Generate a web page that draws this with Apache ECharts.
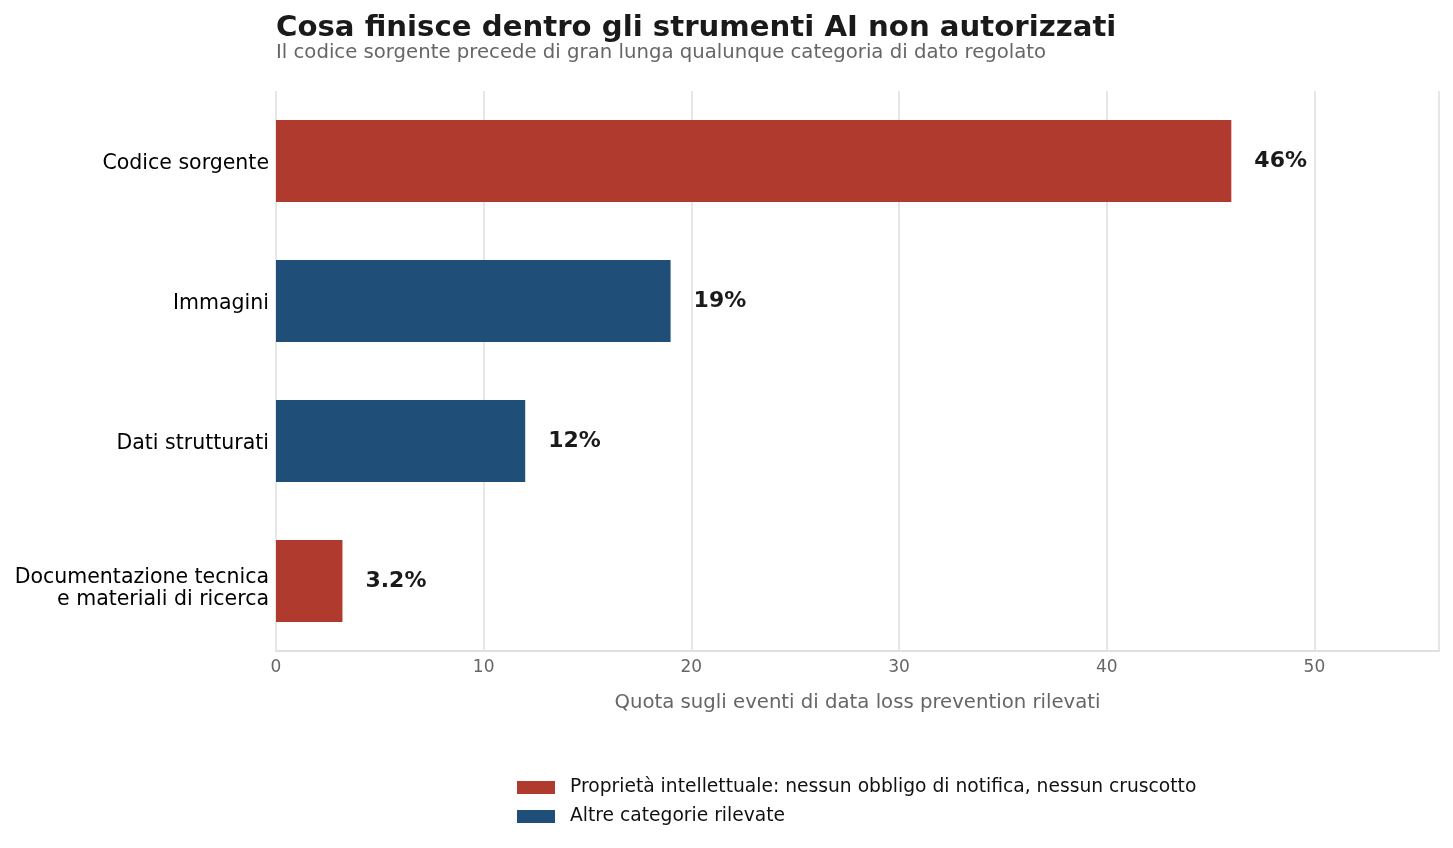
<!DOCTYPE html>
<html>
<head>
<meta charset="utf-8">
<script src="https://cdn.jsdelivr.net/npm/echarts@6/dist/echarts.min.js"></script>
<style>
  html, body { margin: 0; padding: 0; background: #fff; }
  #chart { width: 1453px; height: 848px; }
</style>
</head>
<body>
<div id="chart"></div>
<script>
// categorie dall'alto verso il basso
const categories = ['Codice sorgente', 'Immagini', 'Dati strutturati', 'Documentazione tecnica\ne materiali di ricerca']
const ipValues = [46, null, null, 3.2]
const otherValues = [null, 19, 12, null]
const valueLabels = ['46%', '19%', '12%', '3.2%']
const seriesNames = ['Proprietà intellettuale: nessun obbligo di notifica, nessun cruscotto', 'Altre categorie rilevate']

const RED = '#B03A2E'
const BLUE = '#1F4E79'
const font = 'DejaVu Sans'

let chart = echarts.init(document.getElementById('chart'))

function labelFor(params) {
  return valueLabels[params.dataIndex]
}

// etichette categoria un po' più in basso, come nell'originale
function catLabel(v) {
  let lines = v.split('\n')
  if (lines.length === 1) return '{one|' + v + '}'
  return lines.map(s => '{two|' + s + '}').join('\n')
}

let barLabel = {
  show: true,
  position: 'right',
  distance: 23,
  formatter: labelFor,
  fontFamily: font,
  fontSize: 22,
  fontWeight: 'bold',
  color: '#1a1a1a'
}

let catText = { fontFamily: font, fontSize: 20.5, color: '#000', lineHeight: 22, align: 'right' }

chart.setOption({
  animation: false,
  textStyle: { fontFamily: font },
  title: {
    text: 'Cosa finisce dentro gli strumenti AI non autorizzati',
    subtext: 'Il codice sorgente precede di gran lunga qualunque categoria di dato regolato',
    left: 271,
    top: 9,
    itemGap: 0,
    textStyle: { fontFamily: font, fontSize: 29.2, fontWeight: 'bold', color: '#1a1a1a' },
    subtextStyle: { fontFamily: font, fontSize: 19.7, color: '#666' }
  },
  legend: {
    orient: 'vertical',
    left: 512,
    top: 773,
    itemWidth: 38,
    itemHeight: 13,
    itemGap: 10,
    icon: 'rect',
    textStyle: { fontFamily: font, fontSize: 18.7, color: '#111', padding: [0, 0, 0, 10] },
    data: seriesNames
  },
  grid: { left: 276, right: 14, top: 91, bottom: 197, containLabel: false },
  xAxis: {
    type: 'value',
    min: 0,
    max: 56,
    interval: 10,
    name: 'Quota sugli eventi di data loss prevention rilevati',
    nameLocation: 'middle',
    nameGap: 42,
    nameTextStyle: { fontFamily: font, fontSize: 19.7, color: '#666' },
    axisLine: { show: true, lineStyle: { color: '#e0e0e0', width: 2 } },
    axisTick: { show: false },
    axisLabel: { fontFamily: font, fontSize: 17, color: '#666', margin: 8,
      formatter: v => (v % 10 === 0 ? String(v) : '') },
    splitLine: { show: true, lineStyle: { color: '#e6e6e6', width: 2 } }
  },
  yAxis: {
    type: 'category',
    inverse: true,
    data: categories,
    axisLine: { show: false },
    axisTick: { show: false },
    axisLabel: {
      fontFamily: font, fontSize: 20.5, color: '#000', margin: 7, align: 'right',
      formatter: catLabel,
      rich: {
        one: Object.assign({ padding: [6, 0, 0, 0] }, catText),
        two: Object.assign({ padding: [16, 0, 0, 0] }, catText)
      }
    }
  },
  series: [
    {
      name: seriesNames[0],
      type: 'bar',
      stack: 'tot',
      barWidth: 82,
      itemStyle: { color: RED },
      label: barLabel,
      data: ipValues
    },
    {
      name: seriesNames[1],
      type: 'bar',
      stack: 'tot',
      barWidth: 82,
      itemStyle: { color: BLUE },
      label: barLabel,
      data: otherValues
    }
  ]
})
</script>
</body>
</html>
